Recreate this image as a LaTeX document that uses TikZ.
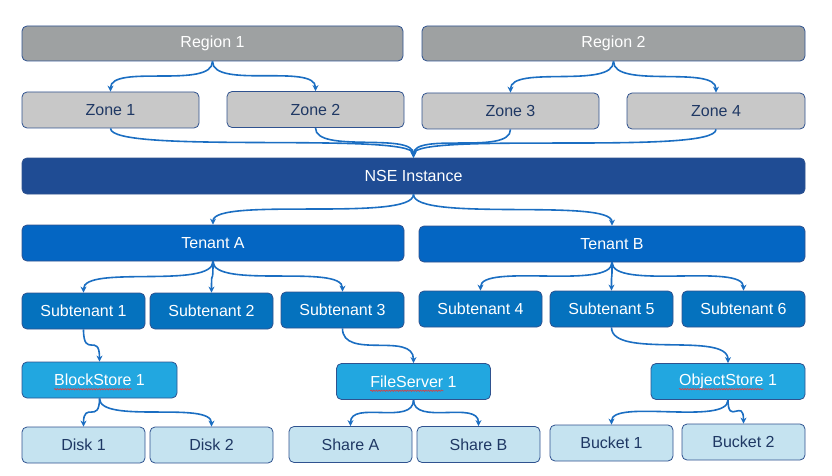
\documentclass[tikz,border=0pt]{standalone}
\usepackage{fontspec}
\setmainfont{Liberation Sans}
\usetikzlibrary{arrows.meta,decorations.pathmorphing}
\definecolor{bord}{HTML}{2F528F}
\definecolor{regionfill}{HTML}{9EA1A2}
\definecolor{zonefill}{HTML}{C8C8C8}
\definecolor{nsefill}{HTML}{1F4C94}
\definecolor{tenantfill}{HTML}{0466C3}
\definecolor{subfill}{HTML}{0572BE}
\definecolor{storefill}{HTML}{22A7E0}
\definecolor{leaffill}{HTML}{C5E3F0}
\definecolor{darktext}{HTML}{1F3864}
\definecolor{linkblue}{HTML}{1B6EC2}
\definecolor{squigred}{HTML}{E03C3C}
\tikzset{
  box/.style={rounded corners=5pt, draw=bord, line width=0.8pt, inner sep=0pt,
    minimum height=36pt, font=\fontsize{16}{19}\selectfont},
  regionbox/.style={box, fill=regionfill, text=white, minimum width=381pt, minimum height=35pt},
  zonebox/.style={box, fill=zonefill, text=darktext, minimum width=177pt},
  nsebox/.style={box, fill=nsefill, text=white, minimum width=783pt},
  tenantbox/.style={box, fill=tenantfill, text=white},
  subbox/.style={box, fill=subfill, text=white, minimum width=123pt},
  storebox/.style={box, fill=storefill, text=white, minimum width=155pt},
  leafbox/.style={box, fill=leaffill, text=darktext, minimum width=123pt},
  conn/.style={draw=linkblue, line width=1.6pt, -{Stealth[length=6pt,width=6pt]}},
  squig/.style={draw=squigred, line width=0.6pt, decorate,
    decoration={snake, amplitude=0.7pt, segment length=2.6pt}}
}
\begin{document}
\begin{tikzpicture}[x=1pt,y=-1pt]
\useasboundingbox (0,0) rectangle (832,476);
% regions
\node[regionbox] (r1) at (212.5,43.5) {Region 1};
\node[regionbox, minimum width=383pt] (r2) at (613.5,43.5) {Region 2};
% zones
\node[zonebox] (z1) at (110.5,110) {Zone 1};
\node[zonebox] (z2) at (315.5,109.5) {Zone 2};
\node[zonebox] (z3) at (510.5,111) {Zone 3};
\node[zonebox, minimum width=178pt] (z4) at (716,111) {Zone 4};
% NSE
\node[nsebox] (nse) at (413.5,176) {NSE Instance};
% tenants
\node[tenantbox, minimum width=382pt] (ta) at (213,243) {Tenant A};
\node[tenantbox, minimum width=386pt] (tb) at (612,244) {Tenant B};
% subtenants
\node[subbox] (s1) at (83.5,311) {Subtenant 1};
\node[subbox] (s2) at (211.5,311) {Subtenant 2};
\node[subbox] (s3) at (342.5,310) {Subtenant 3};
\node[subbox] (s4) at (480.5,309) {Subtenant 4};
\node[subbox] (s5) at (611.5,309) {Subtenant 5};
\node[subbox] (s6) at (743.5,309) {Subtenant 6};
% stores
\node[storebox] (bs) at (99.5,380) {BlockStore 1};
\node[storebox, minimum width=154pt] (fs) at (413.5,381.5) {FileServer 1};
\node[storebox, minimum width=154pt] (os) at (728,381.5) {ObjectStore 1};
% leaves
\node[leafbox] (d1) at (83.5,445) {Disk 1};
\node[leafbox] (d2) at (211.5,445) {Disk 2};
\node[leafbox] (sa) at (350.5,444.5) {Share A};
\node[leafbox] (sb) at (478.5,444.5) {Share B};
\node[leafbox] (b1) at (611.5,443) {Bucket 1};
\node[leafbox] (b2) at (743.5,442) {Bucket 2};
% spell-check squiggles
\draw[squig] ([yshift=-3.5pt]bs.text) -- ++(77.4,0);
\draw[squig] ([yshift=-3.5pt]fs.text) -- ++(72.9,0);
\draw[squig] ([yshift=-3.5pt]os.text) -- ++(84.5,0);
% connectors
\foreach \a/\b/\k in {r1/z1/28, r1/z2/28, r2/z3/28, r2/z4/28,
  z1/nse/26, z2/nse/26, z3/nse/26, z4/nse/26,
  nse/ta/28, nse/tb/28,
  ta/s1/28, ta/s2/28, ta/s3/28, tb/s4/28, tb/s5/28, tb/s6/28,
  s1/bs/30, s3/fs/32, s5/os/32,
  bs/d1/26, bs/d2/26, fs/sa/26, fs/sb/26, os/b1/26, os/b2/26}
  \draw[conn] (\a.south) .. controls +(0,\k) and +(0,-\k) .. (\b.north);
\end{tikzpicture}
\end{document}
